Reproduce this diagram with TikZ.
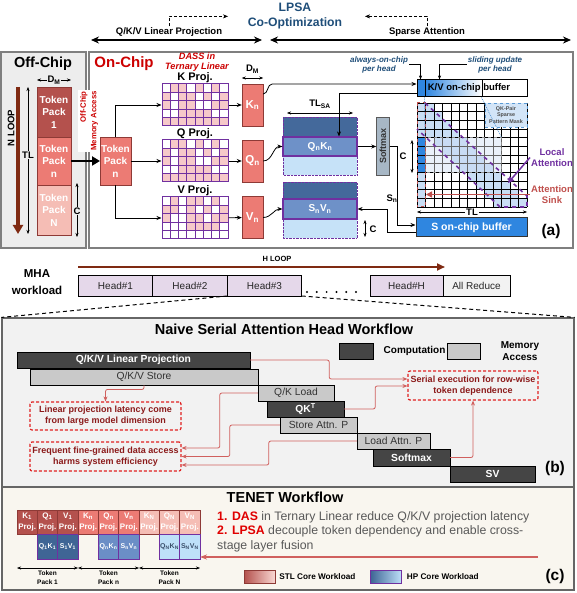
\documentclass[tikz,border=0pt]{standalone}
\usepackage{fontspec}
\setmainfont{Liberation Sans}
\usetikzlibrary{arrows.meta,positioning}
\definecolor{lpsablue}{HTML}{1F4E79}
\definecolor{offfill}{HTML}{EDEDED}
\definecolor{panelline}{HTML}{7F7F7F}
\definecolor{pack1}{HTML}{B4514D}
\definecolor{packn}{HTML}{EC7B74}
\definecolor{packN}{HTML}{F5BDB5}
\definecolor{packline}{HTML}{8E3A36}
\definecolor{onred}{HTML}{CC0000}
\definecolor{cellpink}{HTML}{F6C9C9}
\definecolor{gridpurple}{HTML}{7030A0}
\definecolor{qdark}{HTML}{44699B}
\definecolor{qmid}{HTML}{6E91C8}
\definecolor{qlight}{HTML}{C6E2F8}
\definecolor{softgray}{HTML}{A7B7C5}
\definecolor{kvblue}{HTML}{2F86E0}
\definecolor{celllight}{HTML}{C9DEF5}
\definecolor{cellmid}{HTML}{A6C6EE}
\definecolor{chunkfill}{HTML}{DCE8F7}
\definecolor{sinkred}{HTML}{C0504D}
\definecolor{localpurple}{HTML}{7030A0}
\definecolor{loopbrown}{HTML}{7F2A12}
\definecolor{headfill}{HTML}{E5D8EA}
\definecolor{reducefill}{HTML}{F2F2F2}
\definecolor{panelgray}{HTML}{F2F2F2}
\definecolor{panelcream}{HTML}{F9F6EF}
\definecolor{bardark}{HTML}{454545}
\definecolor{barlight}{HTML}{C9C9C9}
\definecolor{notered}{HTML}{E02020}
\definecolor{notetext}{HTML}{8B1A1A}
\definecolor{linkred}{HTML}{D0605E}
\definecolor{txtgray}{HTML}{595959}
\definecolor{dasred}{HTML}{E00000}
\definecolor{hp1}{HTML}{3F6595}
\definecolor{hpn}{HTML}{6B8EC6}
\definecolor{hpN}{HTML}{BEE0F9}
\definecolor{hptext}{HTML}{3B4F6B}
\definecolor{maskfill}{HTML}{D3E5F8}
\definecolor{maskline}{HTML}{5B9BD5}
\begin{document}
\begin{tikzpicture}[x=1pt, y=-1pt,
    phase/.style={font=\fontsize{9.5}{11}\selectfont\bfseries, inner sep=1pt},
    phasearrow/.style={line width=1.4pt, {Stealth[length=8pt,width=7pt]}-{Stealth[length=8pt,width=7pt]}},
    pack/.style={draw=packline, text=white, align=center, inner sep=0pt, outer sep=0pt,
        minimum width=34pt, minimum height=49pt, font=\fontsize{10}{12.5}\selectfont\bfseries},
    projbox/.style={draw=packline, fill=packn, text=white, inner sep=0pt,
        minimum width=21pt, minimum height=42pt, font=\fontsize{11.5}{13}\selectfont\bfseries},
    projgrid/.style={draw=gridpurple, line width=1pt, minimum width=66pt, minimum height=42pt, inner sep=0pt},
    projlabel/.style={font=\fontsize{11}{12}\selectfont\bfseries, inner sep=0.5pt},
    conn/.style={thick, -{Stealth[length=5pt,width=4pt]}},
    bigarrow/.style={line width=2.2pt, -{Triangle[length=8pt,width=9pt]}},
    dimarrow/.style={thin, {Stealth[length=4pt,width=3pt]}-{Stealth[length=4pt,width=3pt]}},
    dimlabel/.style={font=\fontsize{9.5}{10}\selectfont\bfseries, inner sep=1pt},
    loopline/.style={color=loopbrown, line width=3.5pt, -{Triangle[length=9pt,width=10pt]}},
    hloop/.style={color=loopbrown, line width=2pt, -{Triangle[length=8pt,width=7pt]}},
    attrow/.style={fill=qmid, draw=gridpurple, line width=1.2pt, text=white, inner sep=0pt,
        minimum width=74pt, minimum height=19pt, font=\fontsize{10}{11}\selectfont\bfseries},
    softbox/.style={fill=softgray, draw=black!65, minimum width=13pt, minimum height=58pt, inner sep=0pt},
    bufbox/.style={draw=black, line width=1pt, minimum width=110pt, minimum height=17pt, inner sep=0pt},
    buftext/.style={font=\fontsize{9.5}{10}\selectfont\bfseries, inner sep=0pt},
    sbufbox/.style={draw=black!80, line width=1pt, fill=kvblue, text=white, minimum width=111pt,
        minimum height=19pt, inner sep=0pt, font=\fontsize{10.5}{11}\selectfont\bfseries},
    anno/.style={font=\fontsize{8}{9}\selectfont\bfseries\itshape, text=lpsablue, align=center, inner sep=1pt},
    maskbox/.style={fill=maskfill, draw=maskline, dashed, minimum width=42pt, minimum height=24pt,
        inner sep=0pt, align=center, text=black!70, font=\fontsize{5.4}{6.6}\selectfont\bfseries},
    sidelbl/.style={font=\fontsize{9.5}{11}\selectfont\bfseries, align=center, inner sep=1pt},
    headbox/.style={draw=black, line width=1pt, fill=headfill, minimum width=74.5pt, minimum height=21pt,
        inner sep=0pt, outer sep=0pt, font=\fontsize{10}{11}\selectfont, text=black!85},
    panel/.style={draw=black!60, line width=1.2pt, inner sep=0pt},
    zoomline/.style={line width=1pt, dash pattern=on 4pt off 3pt},
    compbar/.style={draw=black, fill=bardark, text=white, minimum height=16.5pt, inner sep=0pt,
        font=\fontsize{10.3}{11}\selectfont\bfseries},
    membar/.style={draw=black, fill=barlight, text=black!80, minimum height=16.5pt, inner sep=0pt,
        font=\fontsize{10.3}{11}\selectfont},
    notebox/.style={draw=notered, line width=1.2pt, dash pattern=on 3pt off 2pt, rounded corners=2pt,
        text=notetext, align=center, inner sep=0pt, font=\fontsize{9}{11}\selectfont\bfseries},
    rlink/.style={draw=linkred, line width=0.8pt, rounded corners=2pt, -{Stealth[length=5pt,width=4pt]}},
    wcell/.style={draw=packline, line width=0.5pt, minimum width=20.33pt, minimum height=24pt, inner sep=0pt,
        outer sep=0pt, text=white, align=center, font=\fontsize{8}{11.5}\selectfont\bfseries},
    hpcell/.style={draw=gridpurple, line width=0.8pt, minimum width=20.33pt, minimum height=25pt, inner sep=0pt,
        outer sep=0pt, font=\fontsize{7}{8}\selectfont\bfseries},
    packlbl/.style={font=\fontsize{6.5}{9}\selectfont\bfseries, align=center, inner sep=0pt},
    legbox/.style={draw=packline, minimum width=31pt, minimum height=13pt, inner sep=0pt},
    leglbl/.style={font=\fontsize{8.2}{9}\selectfont\bfseries, inner sep=0pt},
    tag/.style={font=\fontsize{15.5}{17}\selectfont\bfseries}
]
\useasboundingbox (0,0) rectangle (576,593);

\node[font=\fontsize{12.2}{15}\selectfont\bfseries, text=lpsablue, align=center] (lpsa) at (295,16) {LPSA\\Co-Optimization};
\node[phase] (qkvphase) at (169,32) {Q/K/V Linear Projection};
\node[phase] (saphase) at (427,32) {Sparse Attention};
\coordinate (qkvl) at (91,40);
\coordinate (qkvr) at (262,40);
\coordinate (sal) at (270,40);
\coordinate (sar) at (571,40);
\draw[phasearrow] (qkvl) -- (qkvr);
\draw[phasearrow] (sal) -- (sar);
\draw[thin, dash pattern=on 3pt off 2pt, -{Stealth[length=5pt,width=4pt]}] (qkvphase.north) -- ++(0,-10) -- ++(59,0);
\draw[thin, dash pattern=on 3pt off 2pt, -{Stealth[length=5pt,width=4pt]}] (saphase.north) -- ++(0,-10) -- ++(-62,0);

\draw[panelline, line width=2pt, fill=offfill] (1,52) rectangle (86,248);
\draw[panelline, line width=2pt, fill=white] (89,52) rectangle (573,248);
\node[font=\fontsize{14.5}{16}\selectfont\bfseries] (offlbl) at (43,64) {Off-Chip};
\node[font=\fontsize{15}{16}\selectfont\bfseries, text=onred] (onlbl) at (124,64) {On-Chip};

\node[pack, fill=pack1, minimum height=50pt] (tp1) at (54,112) {Token\\Pack\\1};
\node[pack, fill=packn, minimum height=48pt, below=0pt of tp1] (tpn) {Token\\Pack\\n};
\node[pack, fill=packN, minimum height=50pt, below=0pt of tpn] (tpN) {Token\\Pack\\N};
\draw[dimarrow] (tp1.north west |- 0,80) -- (tp1.north east |- 0,80);
\node[dimlabel, fill=offfill] at (tp1.north |- 0,80) {D\textsubscript{M}};
\draw[loopline] (18,87) -- (18,234);
\node[rotate=90, font=\fontsize{9.5}{10}\selectfont\bfseries] at (11,128) {N LOOP};
\draw[dimarrow] (28,87) -- (28,234);
\node[dimlabel, fill=offfill] at (28,155) {TL};
\draw[dimarrow] (77,183) -- (77,237);
\node[dimlabel, fill=offfill] at (77,211) {C};

\node[rotate=90, align=right, fill=white, inner sep=1.5pt, text=onred, minimum height=23pt,
    font=\fontsize{7.8}{10.5}\selectfont\bfseries] (omalbl) at (89,121) {Off-Chip\\Memory Access};
\node[pack, fill=packn, minimum width=31pt, minimum height=48pt] (ocp) at (115.5,161) {Token\\Pack\\n};
\draw[bigarrow] (tpn) -- (ocp);

\node[font=\fontsize{9.2}{10.5}\selectfont\bfseries\itshape, text=onred, align=center, inner sep=0pt] (dass) at (197,62) {DASS in\\Ternary Linear};
\foreach \gy/\gname/\glabel in {84/kgrid/K,140/qgrid/Q,197/vgrid/V} {
    \foreach \c in {0,...,7} \foreach \r in {0,...,4} {
        \pgfmathtruncatemacro{\wh}{mod(\c*3+\r*5+\c*\r+\gy,7)}
        \ifnum\wh>2 \fill[cellpink] ({162+\c*8.25},{\gy+\r*8.4}) rectangle ++(8.25,8.4); \fi
    }
    \foreach \c in {1,...,7} \draw[gridpurple, line width=0.6pt] ({162+\c*8.25},\gy) -- ++(0,42);
    \foreach \r in {1,...,4} \draw[gridpurple, line width=0.6pt] (162,{\gy+\r*8.4}) -- ++(66,0);
    \node[projgrid] (\gname) at (195,\gy+21) {};
    \node[projlabel, above=0pt of \gname] {\glabel{} Proj.};
}
\draw[conn] (ocp.north) |- (kgrid.west);
\draw[conn] (ocp) -- (qgrid);
\draw[conn] (ocp.south) |- (vgrid.west);

\node[projbox] (kn) at (252.5,105) {K\textsubscript{n}};
\node[projbox] (qn) at (252.5,161) {Q\textsubscript{n}};
\node[projbox] (vn) at (252.5,217.5) {V\textsubscript{n}};
\draw[conn] (kgrid) -- (kn);
\draw[conn] (qgrid) -- (qn);
\draw[conn] (vgrid) -- (vn);
\draw[dimarrow] (kn.north west |- 0,78) -- (kn.north east |- 0,78);
\node[dimlabel] at (kn.north |- 0,69) {D\textsubscript{M}};

\fill[qdark] (283,117) rectangle (357,137);
\fill[qlight] (283,156) rectangle (357,175);
\node[attrow] (qk) at (320,146.5) {Q\textsubscript{n}K\textsubscript{n}};
\draw[gridpurple, densely dotted] (283,117) rectangle (357,175);
\fill[qdark] (283,182) rectangle (357,199);
\fill[qlight] (283,219) rectangle (357,238);
\node[attrow, minimum height=20pt] (sv) at (320,209) {S\textsubscript{n}V\textsubscript{n}};
\draw[gridpurple, densely dotted] (283,182) rectangle (357,238);
\draw[dimarrow] (287,113) -- (353,113);
\node[dimlabel] at (320,104) {TL\textsubscript{SA}};
\draw[dimarrow] (365,220) -- (365,237);
\node[dimlabel] at (373,229) {C};
\draw[conn] (qn.east) to[out=0, in=180] (qk.west);
\draw[conn] (vn.east) to[out=0, in=180] (sv.west);

\fill[kvblue] (417,80) rectangle (425,97);
\shade[left color=kvblue, right color=white] (425,80) rectangle (482,97);
\draw (425,80) -- (425,97);
\draw (482,80) -- (482,97);
\node[bufbox] (kvbuf) at (472,88.5) {};
\node[buftext] at (469,88.5) {K/V on-chip buffer};
\node[anno] (aoc) at (379,64.5) {always-on-chip\\per head};
\node[anno] (siu) at (495,64.5) {sliding update\\per head};
\draw[thin, -{Stealth[length=4pt,width=3pt]}] (aoc.east) -| ([xshift=4pt]kvbuf.north west);
\draw[thin, -{Stealth[length=4pt,width=3pt]}] (siu.west) -| ([xshift=23pt]kvbuf.north west);
\draw[conn] ([yshift=11pt]kn.east) to[out=0, in=180] ++(9,-10) -- ([yshift=4.5pt]kvbuf.west);
\draw[conn] ([yshift=-4.5pt]kvbuf.west) -| ([xshift=19pt]qk.north);

\node[softbox] (smax) at (383,146) {};
\node[rotate=90, font=\fontsize{9}{10}\selectfont\bfseries, text=black!80] at (smax) {Softmax};
\node[sbufbox] (sbuf) at (471.5,227.5) {S on-chip buffer};
\draw[conn] (qk.east) -- (smax.west |- qk.east);
\draw[conn] (smax.east) -- ++(8,0) |- ([yshift=2.5pt]sbuf.west);
\draw[conn] ([yshift=-4.5pt]sbuf.west) -- ++(-28,0) |- (sv.east);
\node[dimlabel] at (392,199) {S\textsubscript{n}};
\draw[dimarrow] (412,140) -- (412,173);
\node[dimlabel] at (403,156) {C};

\begin{scope}[shift={(417,103)}]
    \def\attw{8.4615}
    \def\atth{8.6667}
    \fill[celllight] (0,0) rectangle (\attw,104);
    \foreach \r in {0,...,11} {
        \pgfmathtruncatemacro{\ca}{max(1,\r-2)}
        \pgfmathtruncatemacro{\cb}{min(13,\r+2)}
        \fill[celllight] ({\ca*\attw},{\r*\atth}) rectangle ({\cb*\attw},{(\r+1)*\atth});
    }
    \fill[chunkfill] (\attw,{4*\atth}) rectangle ({10*\attw},{8*\atth});
    \foreach \r in {4,...,7} {
        \pgfmathtruncatemacro{\ca}{max(1,\r-2)}
        \pgfmathtruncatemacro{\cb}{min(10,\r+2)}
        \fill[cellmid] ({\ca*\attw},{\r*\atth}) rectangle ({\cb*\attw},{(\r+1)*\atth});
    }
    \fill[kvblue] (0,{4*\atth}) rectangle (\attw,{8*\atth});
    \foreach \c in {0,...,13} \draw[line width=0.6pt] ({\c*\attw},0) -- ({\c*\attw},104);
    \foreach \r in {0,...,12} \draw[line width=0.6pt] (0,{\r*\atth}) -- (110,{\r*\atth});
    \fill[white, fill opacity=0.4] (\attw,{4*\atth}) rectangle ({10*\attw},{8*\atth});
    \draw[black!45, dashed, line width=0.8pt] (\attw,{4*\atth}) rectangle ({10*\attw},{8*\atth});
    \node[maskbox] (mask) at (89,12) {QK-Pair\\Sparse\\Pattern Mask};
    \draw[sinkred, dashed, line width=1pt] (0,0) rectangle (\attw,104);
    \draw[localpurple, line width=1.6pt, dash pattern=on 4pt off 4pt] (8,0) -- (110,93) -- (110,104) -- (83,104) -- (0,26);
\end{scope}
\draw[maskline, densely dotted, line width=0.8pt] ([xshift=8pt]kvbuf.south west) -- (425,137.7);
\draw[maskline, densely dotted, line width=0.8pt] ([xshift=65pt]kvbuf.south west) -- (501.6,137.7);
\node[sidelbl, text=localpurple] (loclbl) at (552,157.5) {Local\\Attention};
\node[sidelbl, text=sinkred] (sinklbl) at (552,194.5) {Attention\\Sink};
\coordinate (locend) at (508,183);
\coordinate (sinkend) at (426,194.5);
\draw[localpurple, line width=1.5pt, -{Triangle[length=6pt,width=6pt]}] (loclbl.west) -- (locend);
\draw[sinkred, line width=1.5pt, -{Triangle[length=6pt,width=6pt]}] (sinklbl.west) -- (sinkend);
\draw[dimarrow] (417,212) -- (527,212);
\node[dimlabel, fill=white] at (472,212) {TL};
\node[tag] at (551,231) {(a)};

\node[font=\fontsize{11.5}{16.5}\selectfont\bfseries, align=center] (mha) at (37,282) {MHA\\workload};
\node[headbox] (h1) at (115.5,285.5) {Head\#1};
\node[headbox, right=0pt of h1] (h2) {Head\#2};
\node[headbox, right=0pt of h2] (h3) {Head\#3};
\node[headbox, minimum width=73pt] (hH) at (406.5,285.5) {Head\#H};
\node[headbox, fill=reducefill, minimum width=67pt, right=0pt of hH] (allred) {All Reduce};
\foreach \dx in {0,...,5} \fill ({307+\dx*9.8},292) circle (1.1pt);
\draw[hloop] (h1.north west |- 0,267) -- (445,267);
\node[font=\fontsize{7.5}{8}\selectfont\bfseries] at (277,259) {H LOOP};

\node[panel, fill=panelgray, minimum width=572pt, minimum height=169pt] (wfb) at (288,402.5) {};
\node[panel, fill=panelcream, minimum width=572pt, minimum height=103pt] (wfc) at (288,538.5) {};
\draw[zoomline] (h3.south west) -- (wfb.north west);
\draw[zoomline] (h3.south east) -- (wfb.north east);

\node[font=\fontsize{14.5}{16}\selectfont\bfseries] (wftitle) at (284,329) {Naive Serial Attention Head Workflow};
\node[compbar, minimum width=34pt] (legc) at (356,351) {};
\node[font=\fontsize{10}{11}\selectfont\bfseries, right=7pt of legc] {Computation};
\node[membar, minimum width=33pt] (legm) at (463.5,351) {};
\node[font=\fontsize{10}{12}\selectfont\bfseries, align=center] at (520,351) {Memory\\Access};

\node[compbar, minimum width=233pt] (lp) at (133.5,360) {Q/K/V Linear Projection};
\node[membar, minimum width=228pt] (st) at (144,377) {Q/K/V Store};
\node[membar, minimum width=76pt] (qkl) at (296,393) {Q/K Load};
\node[compbar, minimum width=77pt] (qkt) at (305.5,409) {QK\textsuperscript{T}};
\node[membar, minimum width=77pt] (sap) at (318.5,425) {Store Attn. P};
\node[membar, minimum width=73pt] (lap) at (393.5,441) {Load Attn. P};
\node[compbar, minimum width=77pt] (smx) at (411.5,457.5) {Softmax};
\node[compbar, minimum width=85pt] (svb) at (492.5,474) {SV};

\node[notebox, minimum width=130pt, minimum height=29pt] (serial) at (473,385.5) {Serial execution for row-wise\\token dependence};
\node[notebox, minimum width=151pt, minimum height=28pt] (linproj) at (105.5,416) {Linear projection latency come\\from large model dimension};
\node[notebox, minimum width=151pt, minimum height=29pt] (freq) at (105.5,456.5) {Frequent fine-grained data access\\harms system efficiency};
\draw[rlink] (lp.east) -- ++(79,0) |- ([yshift=6.5pt]serial.west);
\draw[rlink] (qkt.east) -- ++(31,0) |- ([yshift=-0.5pt]serial.west);
\draw[rlink] (smx.east) -| (serial.south);
\draw[rlink] (st.south) -- ++(0,4) -| (linproj.north);
\draw[rlink] (qkl.west) -- ++(-38,0) |- ([yshift=8.5pt]freq.east);
\draw[rlink] (sap.west) -- ++(-50,0) |- (freq.east);
\draw[rlink] (lap.west) -- ++(-88,0) |- ([yshift=-8.5pt]freq.east);
\node[tag] at (555,468) {(b)};

\node[font=\fontsize{14.5}{16}\selectfont\bfseries] (tenet) at (285,497) {TENET Workflow};
\foreach \p/\x/\rc/\bc/\tc in {1/17/pack1/hp1/white, n/78/packn/hpn/white, N/139/packN/hpN/hptext} {
    \node[wcell, fill=\rc] (tk\p) at (\x+10.17,522) {K\textsubscript{\p}\\Proj.};
    \node[wcell, fill=\rc, right=0pt of tk\p] (tq\p) {Q\textsubscript{\p}\\Proj.};
    \node[wcell, fill=\rc, right=0pt of tq\p] (tv\p) {V\textsubscript{\p}\\Proj.};
    \node[hpcell, fill=\bc, text=\tc, below=0pt of tq\p] (tqk\p) {Q\textsubscript{\p}K\textsubscript{\p}};
    \node[hpcell, fill=\bc, text=\tc, below=0pt of tv\p] (tsv\p) {S\textsubscript{\p}V\textsubscript{\p}};
    \draw[dimarrow] (tk\p.south west |- 0,568) -- (tv\p.south east |- 0,568);
    \node[packlbl] at (tq\p.south |- 0,577.5) {Token\\Pack \p};
}
\node[anchor=west, align=left, text=txtgray, font=\fontsize{12.3}{14.5}\selectfont, inner sep=0pt] (tenetnote) at (217,531.5)
    {\textcolor{dasred}{\bfseries 1. DAS} in Ternary Linear reduce Q/K/V projection latency\\
     \textcolor{dasred}{\bfseries 2. LPSA} decouple token dependency and enable cross-\\
     stage layer fusion};
\coordinate (fusestart) at (538,557);
\draw[linkred, line width=1.2pt, -{Stealth[length=7pt,width=5pt]}] (fusestart) -- (fusestart -| tsvN.east);
\node[legbox, left color=pack1, right color=packN!60!white] (legstl) at (259.5,576.5) {};
\node[leglbl, right=4pt of legstl] {STL Core Workload};
\node[legbox, draw=gridpurple, left color=hp1, right color=hpN] (leghp) at (386,576.5) {};
\node[leglbl, right=5pt of leghp] {HP Core Workload};
\node[tag] at (555,576) {(c)};
\end{tikzpicture}
\end{document}
